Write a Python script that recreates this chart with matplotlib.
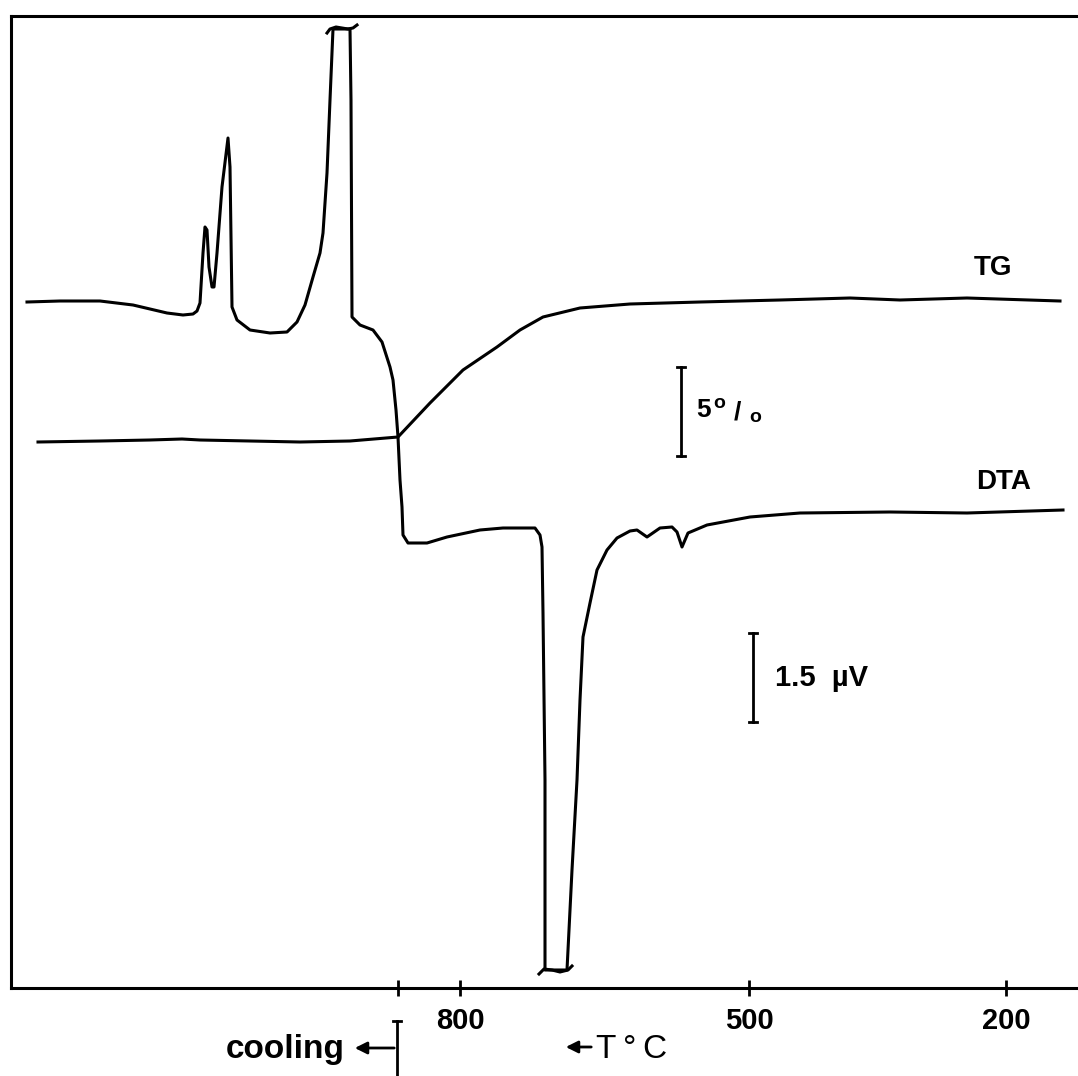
import matplotlib
matplotlib.use('Agg')
import matplotlib.pyplot as plt

# chart position (along the recorder trace) and deflection
dta_x = [27, 60, 100, 133, 167, 183, 193, 197, 200, 203, 205, 207, 209, 212, 214, 217, 222, 228, 230, 232,
         237, 250, 270, 287, 297, 305, 313, 320, 323, 327, 330, 333, 350, 351, 352, 360, 373, 382, 390, 393,
         396, 398, 400, 402, 403, 408, 427, 447, 480, 503, 535, 540, 542, 543, 545, 545, 567, 572, 577, 580,
         583, 590, 597, 607, 617, 630, 637, 647, 660, 672, 677, 682, 688, 707, 750, 800, 890, 967, 1063]
dta_y = [686, 687, 687, 683, 675, 673, 674, 677, 685, 735, 761, 758, 721, 701, 701, 735, 801, 850, 821, 681,
         668, 658, 655, 656, 666, 683, 711, 735, 755, 815, 888, 959, 959, 888, 671, 663, 658, 646, 621, 608,
         578, 551, 508, 481, 453, 445, 445, 451, 458, 460, 460, 453, 441, 375, 208, 18, 18, 118, 208, 288,
         351, 385, 418, 438, 450, 457, 458, 451, 460, 461, 456, 441, 455, 463, 471, 475, 476, 475, 478]

tg_x = [38, 100, 150, 182, 200, 250, 300, 350, 398, 430, 463, 497, 520, 543, 580, 630, 700, 780, 850, 900, 967, 1060]
tg_y = [546, 547, 548, 549, 548, 547, 546, 547, 551, 585, 618, 641, 658, 671, 680, 684, 686, 688, 690, 688, 690, 687]

# off-scale brackets on the clipped peaks
top_clip_x = [327, 330, 336, 342, 348, 353, 357]
top_clip_y = [955, 959, 961, 960, 959, 960, 963]
low_clip_x = [539, 544, 552, 560, 568, 572]
low_clip_y = [14, 19, 18, 16, 18, 22]

tick_pos = [398, 460, 749, 1006]
tick_labels = ['', '800', '500', '200']

fig = plt.figure(figsize=(10.78, 10.76), dpi=100)
ax = fig.add_axes([11 / 1078, 88 / 1076, 1 - 11 / 1078, 972 / 1076])
ax.set_xlim(11, 1078)
ax.set_ylim(0, 972)

lw = 2.2
ax.plot(dta_x, dta_y, color='black', lw=lw, solid_joinstyle='round')
ax.plot(tg_x, tg_y, color='black', lw=lw, solid_joinstyle='round')
ax.plot(top_clip_x, top_clip_y, color='black', lw=lw)
ax.plot(low_clip_x, low_clip_y, color='black', lw=lw)

# scale bars
for bx, b0, b1 in [(681, 532, 621), (753, 266, 355)]:
    ax.plot([bx, bx], [b0, b1], color='black', lw=2)
    ax.plot([bx - 4, bx + 4], [b0, b0], color='black', lw=2)
    ax.plot([bx - 4, bx + 4], [b1, b1], color='black', lw=2)

font = 'Liberation Sans'
ax.text(993, 720, 'TG', ha='center', va='center', fontsize=20, fontweight='bold', family=font)
ax.text(1004, 506, 'DTA', ha='center', va='center', fontsize=20, fontweight='bold', family=font)

# "5 o/o" written the old way
ax.text(696, 578, '5', ha='left', va='center', fontsize=19, fontweight='bold', family=font)
ax.text(719, 584, 'o', ha='center', va='center', fontsize=14, fontweight='bold', family=font)
ax.text(737, 576, '/', ha='center', va='center', fontsize=19, fontweight='bold', family=font)
ax.text(755, 570, 'o', ha='center', va='center', fontsize=14, fontweight='bold', family=font)

ax.text(775, 310, '1.5  \u00b5V', ha='left', va='center', fontsize=21, fontweight='bold', family=font)

ax.spines['right'].set_visible(False)
for s in ['left', 'top', 'bottom']:
    ax.spines[s].set_linewidth(2.2)

ax.set_yticks([])
ax.set_xticks(tick_pos)
ax.set_xticklabels(tick_labels, fontsize=21, fontweight='bold', family=font)
ax.tick_params(axis='x', direction='inout', length=12, width=2, pad=8)

# cooling marker and temperature arrow below the axis
ax.plot([397, 397], [-33, -100], color='black', lw=2, clip_on=False)
ax.plot([393, 401], [-33, -33], color='black', lw=2, clip_on=False)
ax.annotate('', xy=(352, -60), xytext=(397, -60), annotation_clip=False,
            arrowprops=dict(arrowstyle='-|>', color='black', lw=2, mutation_scale=18))
ax.text(345, -70, 'cooling', ha='right', va='baseline', fontsize=24, fontweight='bold', family=font)
ax.annotate('', xy=(563, -59), xytext=(594, -59), annotation_clip=False,
            arrowprops=dict(arrowstyle='-|>', color='black', lw=2, mutation_scale=18))
ax.text(596, -70, 'T\u2009\u00b0\u2009C', ha='left', va='baseline', fontsize=24, family=font)

fig.savefig('out.png', dpi=100)
